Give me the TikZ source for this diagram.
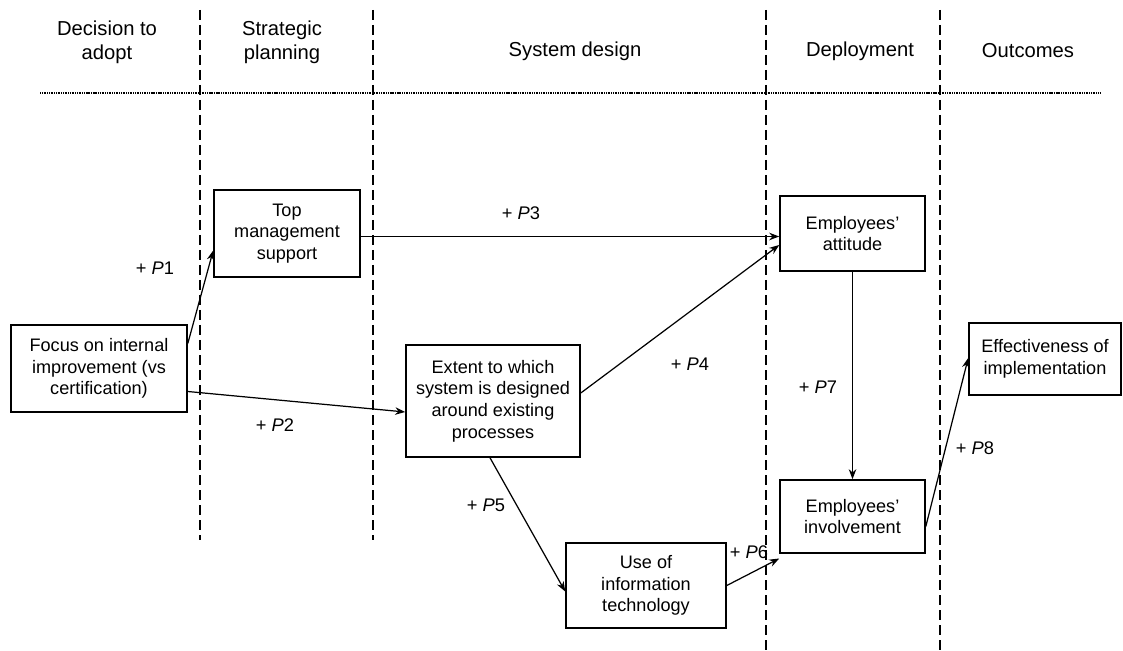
\documentclass[tikz,border=0pt]{standalone}
\usepackage{fontspec}
\setmainfont{Liberation Sans}
\usetikzlibrary{arrows.meta}

\tikzset{
  box/.style={draw, line width=0.9pt, align=center, inner sep=0pt, font=\fontsize{10.3}{12.3}\selectfont},
  lbl/.style={font=\fontsize{10.4}{12}\selectfont},
  hdr/.style={align=center, font=\fontsize{11.5}{13.7}\selectfont},
  stage/.style={line width=1pt, dash pattern=on 2mm off 1mm},
}
\newcommand{\prop}[1]{+ \textit{P}#1}

\begin{document}
\begin{tikzpicture}[>={Stealth[length=2mm,width=1.5mm]}, x=0.2mm, y=-0.2mm, line width=0.7pt]
  \useasboundingbox (0,0) rectangle (1123,651);

  % phases
  \foreach \x/\b in {200/540, 373/540, 766/651, 940/651}
    \draw[stage] (\x,10) -- (\x,\b);
  \draw[line width=0.8pt, dash pattern=on 0.6pt off 0.4pt] (40,93) -- (1100,93);

  \node[hdr] (h1) at (107,42) {Decision to\\adopt};
  \node[hdr] (h2) at (282,42) {Strategic\\planning};
  \node[hdr] (h3) at (575,51) {System design};
  \node[hdr] (h4) at (860,51) {Deployment};
  \node[hdr] (h5) at (1028,51) {Outcomes};

  % constructs
  \node[box, minimum width=35.2mm, minimum height=17.4mm] (foc) at (99,368.5) {Focus on internal\\improvement (vs\\certification)};
  \node[box, minimum width=29.2mm, minimum height=17.4mm] (top) at (287,233.5) {Top\\management\\support};
  \node[box, minimum width=34.8mm, minimum height=22.4mm] (ext) at (493,401) {Extent to which\\system is designed\\around existing\\processes};
  \node[box, minimum width=32mm, minimum height=17mm] (it) at (646,585.5) {Use of\\information\\technology};
  \node[box, minimum width=29mm, minimum height=15mm] (att) at (852.5,233.5) {Employees'\\attitude};
  \node[box, minimum width=29mm, minimum height=14.6mm] (inv) at (852.5,516.5) {Employees'\\involvement};
  \node[box, minimum width=30.4mm, minimum height=14.4mm] (eff) at (1045,359) {Effectiveness of\\implementation};

  % hypotheses
  \draw[->] ([yshift=5mm]foc.east) -- ([yshift=-3.4mm]top.west);
  \draw[->] ([yshift=-4.6mm]foc.east) -- ([yshift=-2.2mm]ext.west);
  \draw[->] ([yshift=-0.6mm]top.east) -- ([yshift=-0.6mm]att.west);
  \draw[->] ([yshift=1.6mm]ext.east) -- ([yshift=-2.3mm]att.west);
  \draw[->] (att.south) -- (inv.north);
  \draw[->] ([xshift=-0.6mm]ext.south) -- ([yshift=-1.2mm]it.west);
  \draw[->] (it.east) -- ([yshift=-8.4mm]inv.west);
  \draw[->] ([yshift=-2mm]inv.east) -- ([yshift=0.2mm]eff.west);

  \node[lbl] (p1) at (155,268) {\prop{1}};
  \node[lbl] (p2) at (275,425) {\prop{2}};
  \node[lbl] (p3) at (521,213) {\prop{3}};
  \node[lbl] (p4) at (690,364) {\prop{4}};
  \node[lbl] (p5) at (486,505) {\prop{5}};
  \node[lbl] (p6) at (749,552) {\prop{6}};
  \node[lbl] (p7) at (818,387) {\prop{7}};
  \node[lbl] (p8) at (975,448) {\prop{8}};
\end{tikzpicture}
\end{document}
